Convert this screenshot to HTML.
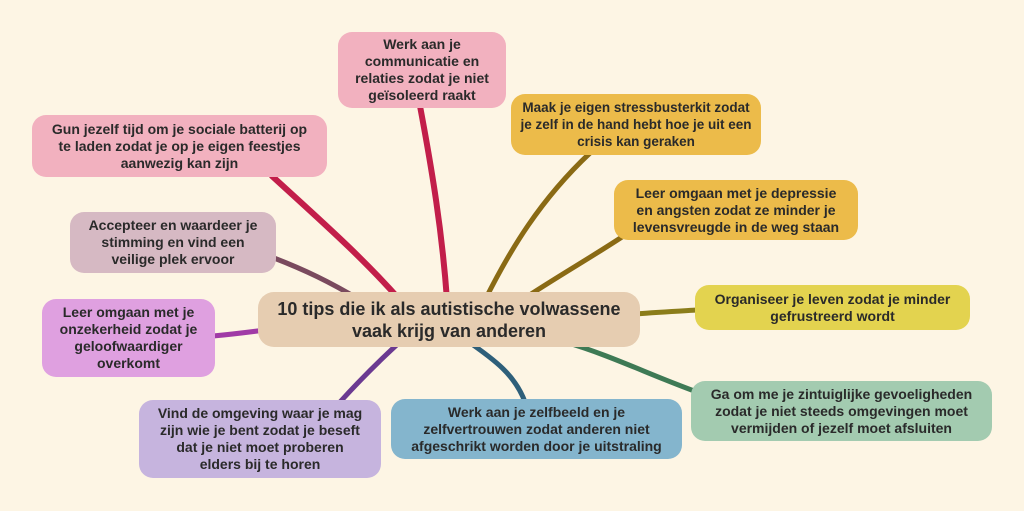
<!DOCTYPE html>
<html><head><meta charset="utf-8"><style>
body{margin:0;width:1024px;height:511px;background:#fdf5e4;position:relative;overflow:hidden;font-family:"Liberation Sans",sans-serif}
.b{position:absolute;border-radius:14px;display:flex;align-items:center;justify-content:center;text-align:center;font-weight:bold;font-size:14px;line-height:17px;color:#2a2a2a;box-sizing:border-box;padding:0 12px}
svg{position:absolute;left:0;top:0}
</style></head><body>
<svg width="1024" height="511" fill="none" stroke-linecap="round">
<path d="M420,106 C432,170 442,230 447,300" stroke="#c21e4a" stroke-width="6"/>
<path d="M272,176 C320,220 360,255 400,300" stroke="#c21e4a" stroke-width="6"/>
<path d="M274,258 C305,270 330,282 360,300" stroke="#7a4a5e" stroke-width="5"/>
<path d="M213,336 C235,334 250,332 265,330" stroke="#a03aa6" stroke-width="5"/>
<path d="M340,402 C360,380 380,360 402,340" stroke="#6b3a91" stroke-width="5"/>
<path d="M466,340 C495,360 515,375 525,402" stroke="#2e5f7a" stroke-width="5"/>
<path d="M565,342 C610,355 650,375 697,392" stroke="#3e7a55" stroke-width="5"/>
<path d="M635,314 C660,312 680,311 697,310" stroke="#8b7d1a" stroke-width="5"/>
<path d="M525,298 C560,275 595,255 625,235" stroke="#8a6a14" stroke-width="5"/>
<path d="M485,300 C510,250 540,200 590,153" stroke="#8a6a14" stroke-width="5"/>
</svg>
<div class="b" style="left:338px;top:32px;width:168px;height:76px;background:#f2b1bf;padding:0 16px">Werk aan je communicatie en relaties zodat je niet geïsoleerd raakt</div>
<div class="b" style="left:511px;top:94px;width:250px;height:61px;background:#ecbb4a;padding:0 4px;font-size:13.5px">Maak je eigen stressbusterkit zodat je zelf in de hand hebt hoe je uit een crisis kan geraken</div>
<div class="b" style="left:614px;top:180px;width:244px;height:60px;background:#ecbb4a;padding:0 14px">Leer omgaan met je depressie en angsten zodat ze minder je levensvreugde in de weg staan</div>
<div class="b" style="left:695px;top:285px;width:275px;height:45px;background:#e3d34f;padding:0 8px">Organiseer je leven zodat je minder gefrustreerd wordt</div>
<div class="b" style="left:691px;top:381px;width:301px;height:60px;background:#a3cbb0;padding:0 6px">Ga om me je zintuiglijke gevoeligheden zodat je niet steeds omgevingen moet vermijden of jezelf moet afsluiten</div>
<div class="b" style="left:391px;top:399px;width:291px;height:60px;background:#84b5cd;padding:0 20px">Werk aan je zelfbeeld en je zelfvertrouwen zodat anderen niet afgeschrikt worden door je uitstraling</div>
<div class="b" style="left:139px;top:400px;width:242px;height:78px;background:#c6b4de;padding:0 16px">Vind de omgeving waar je mag zijn wie je bent zodat je beseft dat je niet moet proberen elders bij te horen</div>
<div class="b" style="left:42px;top:299px;width:173px;height:78px;background:#dfa0e0;padding:0 14px">Leer omgaan met je onzekerheid zodat je geloofwaardiger overkomt</div>
<div class="b" style="left:70px;top:212px;width:206px;height:61px;background:#d6b9c3;padding:0 14px">Accepteer en waardeer je stimming en vind een veilige plek ervoor</div>
<div class="b" style="left:32px;top:115px;width:295px;height:62px;background:#f2b1bf;padding:0 12px">Gun jezelf tijd om je sociale batterij op te laden zodat je op je eigen feestjes aanwezig kan zijn</div>
<div class="b" style="left:258px;top:292px;width:382px;height:55px;background:#e6cdb1;font-size:18px;line-height:22px;border-radius:16px;padding:0 6px">10 tips die ik als autistische volwassene vaak krijg van anderen</div>
</body></html>
